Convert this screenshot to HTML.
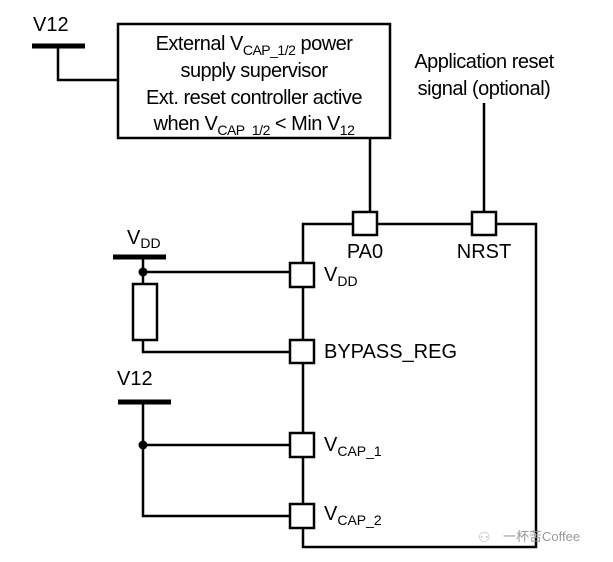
<!DOCTYPE html>
<html><head><meta charset="utf-8"><style>
html,body{margin:0;padding:0;background:#fff;}
svg{display:block;}
text{font-family:"Liberation Sans","Noto Sans CJK SC",sans-serif;fill:#000;}
</style></head><body>
<svg width="613" height="562" viewBox="0 0 613 562" xmlns="http://www.w3.org/2000/svg">
<g stroke="#000" stroke-width="2.5" fill="none">
<line x1="32" y1="46" x2="85" y2="46" stroke-width="5"/>
<polyline points="58,46 58,80 118,80"/>
<rect x="118" y="24" width="272" height="114" fill="#fff"/>
<line x1="370" y1="138" x2="370" y2="212"/>
<line x1="484" y1="103" x2="484" y2="212"/>
<rect x="303" y="224" width="233" height="323"/>
<line x1="113" y1="257" x2="166" y2="257" stroke-width="5"/>
<line x1="143" y1="257" x2="143" y2="284"/>
<line x1="143" y1="272" x2="290" y2="272"/>
<rect x="133" y="284" width="24" height="56"/>
<polyline points="143,340 143,352 290,352"/>
<line x1="118" y1="402" x2="171" y2="402" stroke-width="5"/>
<polyline points="143,402 143,516 290,516"/>
<line x1="143" y1="445" x2="290" y2="445"/>
</g>
<g fill="#000"><circle cx="143" cy="272" r="4.5"/><circle cx="143" cy="445" r="4.5"/></g>
<g stroke="#000" stroke-width="2.5" fill="#fff">
<rect x="353" y="212" width="24" height="23"/>
<rect x="472" y="212" width="24" height="23"/>
<rect x="290" y="263" width="24" height="24"/>
<rect x="290" y="340" width="24" height="23"/>
<rect x="290" y="433" width="24" height="24"/>
<rect x="290" y="504" width="24" height="24"/>
</g>
<g font-size="20">
<text x="33" y="31">V12</text>
<g letter-spacing="-0.5">
<text x="254" y="50" text-anchor="middle">External V<tspan font-size="14" dy="5">CAP_1/2</tspan><tspan dy="-5"> power</tspan></text>
<text x="254" y="77" text-anchor="middle">supply supervisor</text>
<text x="254" y="104" text-anchor="middle">Ext. reset controller active</text>
<text x="254" y="130" text-anchor="middle">when V<tspan font-size="14" dy="5">CAP_1/2</tspan><tspan dy="-5">  &lt; Min V</tspan><tspan font-size="14" dy="5">12</tspan></text>
<text x="484" y="68" text-anchor="middle">Application reset</text>
<text x="484" y="95" text-anchor="middle">signal (optional)</text>
</g>
<text x="365" y="258" text-anchor="middle">PA0</text>
<text x="484" y="258" text-anchor="middle">NRST</text>
<text x="127" y="244">V<tspan font-size="14" dy="4">DD</tspan></text>
<text x="117" y="385">V12</text>
<text x="324" y="281">V<tspan font-size="14" dy="5">DD</tspan></text>
<text x="324" y="358">BYPASS_REG</text>
<text x="324" y="451">V<tspan font-size="14" dy="5">CAP_1</tspan></text>
<text x="324" y="520">V<tspan font-size="14" dy="5">CAP_2</tspan></text>
</g>
<text x="503" y="541" font-size="13" style="fill:#999">一杯苦Coffee</text>
<text x="478" y="542" font-size="14" style="fill:#bbb">⚇</text>
</svg>
</body></html>
